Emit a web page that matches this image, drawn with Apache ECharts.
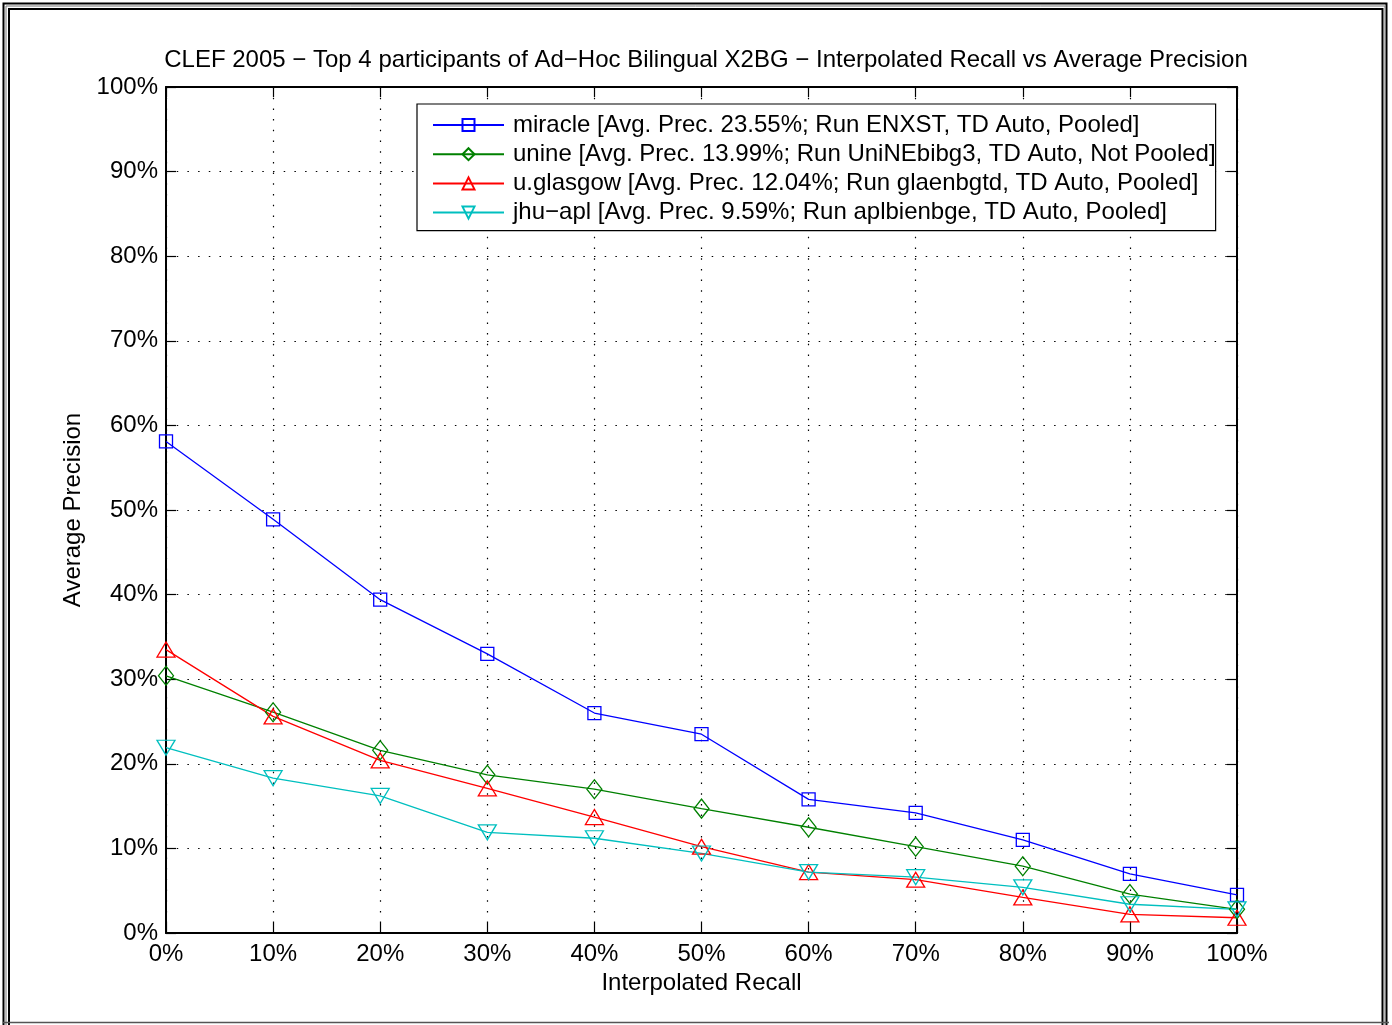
<!DOCTYPE html>
<html>
<head>
<meta charset="utf-8">
<script src="https://cdn.jsdelivr.net/npm/echarts@6/dist/echarts.min.js"></script>
<style>
html,body{margin:0;padding:0;background:#fff;}
#chart{width:1392px;height:1025px;}
</style>
</head>
<body>
<div id="chart"></div>
<script>
const recall = [0, 10, 20, 30, 40, 50, 60, 70, 80, 90, 100];
const seriesNames = [
  'miracle [Avg. Prec. 23.55%; Run ENXST, TD Auto, Pooled]',
  'unine [Avg. Prec. 13.99%; Run UniNEbibg3, TD Auto, Not Pooled]',
  'u.glasgow [Avg. Prec. 12.04%; Run glaenbgtd, TD Auto, Pooled]',
  'jhu\u2212apl [Avg. Prec. 9.59%; Run aplbienbge, TD Auto, Pooled]'
];
const miracle = [58.1, 48.9, 39.4, 33.0, 26.0, 23.5, 15.8, 14.2, 11.0, 7.0, 4.5];
const unine   = [30.4, 26.1, 21.6, 18.7, 17.0, 14.7, 12.5, 10.2, 7.9, 4.6, 2.8];
const glasgow = [33.5, 25.6, 20.4, 17.1, 13.7, 10.2, 7.2, 6.3, 4.2, 2.2, 1.8];
const jhuapl  = [21.9, 18.3, 16.2, 11.9, 11.2, 9.4, 7.2, 6.6, 5.4, 3.4, 2.8];

const FONT = 'Liberation Sans';
const FS = 24;

function pairs(vals) { return recall.map((r, i) => [r, vals[i]]); }

function mkSeries(name, vals, color, symbol, size, rotate) {
  return {
    name: name, type: 'line', data: pairs(vals),
    symbol: symbol, symbolSize: size, symbolRotate: rotate || 0,
    showAllSymbol: true,
    lineStyle: { color: color, width: 1.3 },
    itemStyle: { color: 'rgba(0,0,0,0)', borderColor: color, borderWidth: 1.3 },
    emphasis: { disabled: true },
    animation: false, z: 3
  };
}

const chart = echarts.init(document.getElementById('chart'), null, { renderer: 'canvas' });

function mkAxis(extra) {
  return Object.assign({
    type: 'value', min: 0, max: 100, interval: 10,
    axisLine: { show: true, onZero: false, lineStyle: { color: '#000', width: 2 } },
    axisTick: { show: true, inside: true, length: 10, lineStyle: { color: '#000', width: 1.2 } },
    axisLabel: { formatter: '{value}%', color: '#000', fontFamily: FONT, fontSize: FS },
    nameTextStyle: { color: '#000', fontFamily: FONT, fontSize: FS },
    splitLine: { show: true, lineStyle: { color: '#000', type: [1.5, 9.2], width: 1.2 } }
  }, extra);
}

const option = {
  backgroundColor: '#fff',
  animation: false,
  grid: { left: 166, right: 155, top: 87, bottom: 92, containLabel: false },
  xAxis: [
    mkAxis({ position: 'bottom', name: 'Interpolated Recall', nameLocation: 'middle', nameGap: 38,
      axisLabel: { formatter: '{value}%', color: '#000', fontFamily: FONT, fontSize: FS, margin: 9 } }),
    mkAxis({ position: 'top', axisLabel: { show: false }, splitLine: { show: false } })
  ],
  yAxis: [
    mkAxis({ position: 'left', name: 'Average Precision', nameLocation: 'middle', nameGap: 81,
      axisLabel: { formatter: '{value}%', color: '#000', fontFamily: FONT, fontSize: FS, margin: 8 } }),
    mkAxis({ position: 'right', axisLabel: { show: false }, splitLine: { show: false } })
  ],
  legend: {
    orient: 'vertical', left: 417, top: 104,
    padding: [9, 0, 6, 15],
    itemWidth: 71, itemHeight: 15, itemGap: 5.2,
    backgroundColor: '#fff', borderColor: '#000', borderWidth: 1.2,
    textStyle: { color: '#000', fontFamily: FONT, fontSize: FS, padding: [0, 0, 0, 4] },
    data: seriesNames
  },
  graphic: [
    { type: 'text', x: 706, y: 60, silent: true, z: 10,
      style: { text: 'CLEF 2005 \u2212 Top 4 participants of Ad\u2212Hoc Bilingual X2BG \u2212 Interpolated Recall vs Average Precision',
        fill: '#000', font: FS + 'px "' + FONT + '"', textAlign: 'center', textVerticalAlign: 'middle' } },
    { type: 'rect', shape: { x: 3.5, y: 3.5, width: 1383, height: 1040 }, silent: true, z: 10,
      style: { fill: 'none', stroke: '#000', lineWidth: 2 } },
    { type: 'rect', shape: { x: 6, y: 6, width: 1379, height: 1040 }, silent: true, z: 10,
      style: { fill: 'none', stroke: '#777', lineWidth: 1 } },
    { type: 'rect', shape: { x: 9, y: 9, width: 1373.5, height: 1040 }, silent: true, z: 10,
      style: { fill: 'none', stroke: '#000', lineWidth: 2 } },
    { type: 'line', shape: { x1: 3, y1: 1022.5, x2: 1389, y2: 1022.5 }, silent: true, z: 10,
      style: { stroke: '#555', lineWidth: 1.5 } }
  ],
  series: [
    mkSeries(seriesNames[0], miracle, '#0000ff', 'rect', 13),
    mkSeries(seriesNames[1], unine, '#008000', 'diamond', [15, 19]),
    mkSeries(seriesNames[2], glasgow, '#ff0000', 'triangle', [18, 15]),
    mkSeries(seriesNames[3], jhuapl, '#00bfbf', 'triangle', [18, 15], 180)
  ]
};
chart.setOption(option);
</script>
</body>
</html>
